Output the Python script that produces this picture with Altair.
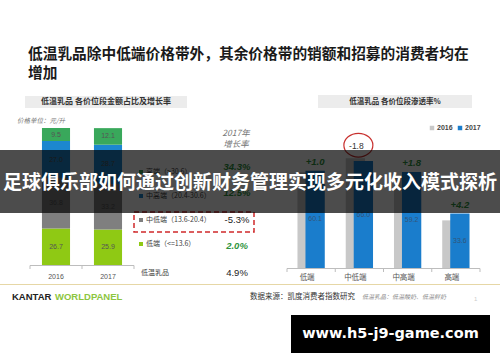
import altair as alt
import pandas as pd

# ---------------- data ----------------
title_lines = ["低温乳品除中低端价格带外，其余价格带的销额和招募的消费者均在", "增加"]
banner_text = "足球俱乐部如何通过创新财务管理实现多元化收入模式探析"
watermark = "www.h5-j9-game.com"

left_title = "低温乳品  各价位段金额占比及增长率"
unit_note = "价格单位：元/升"
years = ["2016", "2017"]
segments = ["低端", "中低端", "中高端", "高端"]          # bottom -> top
share_2016 = [26.7, 36.8, 27.0, 9.5]
share_2017 = [25.9, 33.2, 28.7, 12.1]
seg_colors = ["#8fc914", "#7f7f7f", "#1c87cf", "#39a85b"]
seg_legend = ["低端（<=13.6）", "中低端（13.6-20.4）", "中高端（20.4-30.6）", "高端（>30.6）"]
seg_growth = ["2.0%", "-5.3%", "12.5%", "34.3%"]
growth_head = ["2017年", "增长率"]
total_name = "低温乳品"
total_growth = "4.9%"

right_title = "低温乳品  各价位段渗透率%"
pen_cats = ["低端", "中低端", "中高端", "高端"]
pen_2016 = [59.1, 67.8, 57.4, 29.4]
pen_2017 = [60.1, 66.0, 59.2, 33.6]
pen_change = ["+1.0", "-1.8", "+1.8", "+4.2"]
pen_colors = ["#c8c8c8", "#1a7dcc"]

source_text = "数据来源：凯度消费者指数研究"
source_note = "低温乳品：低温酸奶、低温鲜奶"
brand = ["KANTAR", "WORLDPANEL"]

CJK = "Noto Sans CJK SC"
LAT = "Liberation Sans"
GREEN = "#2f9440"

# ---------------- tables ----------------
rows = []
for yr, shares in zip(years, [share_2016, share_2017]):
    lo = 0.0
    for i, (s, v) in enumerate(zip(segments, shares)):
        rows.append(dict(year=yr, seg=s, ord=i, lo=lo, hi=lo + v, mid=lo + v / 2, label=f"{v:.1f}"))
        lo += v
left_df = pd.DataFrame(rows)

leg_df = pd.DataFrame(dict(seg=segments, label=seg_legend, growth=seg_growth))
leg_df["neg"] = leg_df.growth.str.startswith("-")

pen_df = pd.DataFrame(dict(cat=pen_cats, v16=pen_2016, v17=pen_2017, change=pen_change))
pen_df["top"] = pen_df[["v16", "v17"]].max(axis=1)
pen_df["half"] = pen_df.v17 / 2
pen_df["lab"] = pen_df.v17.map(lambda v: f"{v:.1f}")
pen_df["neg"] = pen_df.change.str.startswith("-")

one = pd.DataFrame({"k": [0]})

# ---------------- scales ----------------
XL = alt.Scale(domain=years, range=[30, 134], paddingInner=0.46, paddingOuter=0.23)
XLt = alt.Scale(domain=years, range=[30, 134], paddingInner=0, paddingOuter=0)
YL = alt.Scale(domain=[0, 100], range=[265, 128])
SEGC = alt.Scale(domain=segments, range=seg_colors)
YLEG = alt.Scale(type="point", domain=segments[::-1], range=[172, 244], padding=0)
YGRO = alt.Scale(type="point", domain=segments[::-1], range=[167, 246], padding=0)

XG = alt.Scale(domain=pen_cats, range=[283, 476], paddingInner=0.6, paddingOuter=0.3)
XB = alt.Scale(domain=pen_cats, range=[291, 484], paddingInner=0.6, paddingOuter=0.3)
XC = alt.Scale(domain=pen_cats, range=[287, 480], paddingInner=0, paddingOuter=0)
YR = alt.Scale(domain=[0, 100], range=[268, 106])
XLEGR = alt.Scale(type="point", domain=years, range=[432, 460], padding=0)


def vtext(text, x, y, size, color="#333", weight="normal", style="normal", align="left", font=CJK):
    return alt.Chart(one).mark_text(
        text=text, fontSize=size, color=color, fontWeight=weight, fontStyle=style,
        align=align, baseline="middle", font=font
    ).encode(x=alt.value(x), y=alt.value(y))


def vrect(x, x2, y, y2, **kw):
    return alt.Chart(one).mark_rect(**kw).encode(
        x=alt.value(x), x2=alt.value(x2), y=alt.value(y), y2=alt.value(y2))


layers = []

# title
layers.append(vtext(title_lines[0], 28, 55, 14.7, "#1a1a1a", "bold"))
layers.append(vtext(title_lines[1], 28, 74, 14.7, "#1a1a1a", "bold"))

# ---------------- left panel ----------------
layers.append(vrect(25, 187, 96, 108, color="#ececec"))
layers.append(vtext(left_title, 106, 102, 8, "#333", "bold", align="center"))
layers.append(vtext(unit_note, 17, 121, 6.5, "#777", style="italic"))

layers.append(alt.Chart(left_df).mark_bar().encode(
    x=alt.X("year:N", scale=XL, axis=None),
    y=alt.Y("lo:Q", scale=YL, axis=None),
    y2="hi:Q",
    color=alt.Color("seg:N", scale=SEGC, legend=None),
))
layers.append(alt.Chart(left_df).mark_text(fontSize=7, color="#555", font=LAT, baseline="middle").encode(
    x=alt.X("year:N", scale=XL, axis=None),
    y=alt.Y("mid:Q", scale=YL, axis=None),
    text="label:N",
))
# left axis
layers.append(alt.Chart(one).mark_rule(color="#bdbdbd").encode(
    x=alt.value(30), x2=alt.value(134), y=alt.value(265.5)))
layers.append(alt.Chart(pd.DataFrame({"year": years})).mark_rule(color="#bdbdbd").encode(
    x=alt.X("year:N", scale=XLt, axis=None, bandPosition=0), y=alt.value(265.5), y2=alt.value(269)))
layers.append(alt.Chart(one).mark_rule(color="#bdbdbd").encode(
    x=alt.value(134), y=alt.value(265.5), y2=alt.value(269)))
layers.append(alt.Chart(pd.DataFrame({"year": years})).mark_text(
    fontSize=7, color="#555", font=LAT, baseline="middle").encode(
    x=alt.X("year:N", scale=XL, axis=None), y=alt.value(277), text="year:N"))

# growth header
layers.append(vtext(growth_head[0], 236, 133, 8.5, "#777", style="italic", align="center"))
layers.append(vtext(growth_head[1], 236, 144, 8.5, "#777", style="italic", align="center"))

# legend rows
layers.append(alt.Chart(leg_df).mark_square(size=16, opacity=1).encode(
    x=alt.value(141),
    y=alt.Y("seg:N", scale=YLEG, axis=None),
    color=alt.Color("seg:N", scale=SEGC, legend=None),
))
layers.append(alt.Chart(leg_df).mark_text(fontSize=7, color="#444", font=CJK, align="left", baseline="middle").encode(
    x=alt.value(146), y=alt.Y("seg:N", scale=YLEG, axis=None), text="label:N"))
layers.append(alt.Chart(leg_df[~leg_df.neg]).mark_text(
    fontSize=9.5, color=GREEN, font=LAT, fontWeight="bold", fontStyle="italic", align="center", baseline="middle").encode(
    x=alt.value(237), y=alt.Y("seg:N", scale=YGRO, axis=None), text="growth:N"))
layers.append(alt.Chart(leg_df[leg_df.neg]).mark_text(
    fontSize=9.5, color="#222", font=LAT, align="center", baseline="middle").encode(
    x=alt.value(237), y=alt.Y("seg:N", scale=YGRO, axis=None), text="growth:N"))
layers.append(vrect(134, 254, 212, 232, fillOpacity=0, stroke="#d0282a", strokeWidth=1.5, strokeDash=[5, 3]))
layers.append(vtext(total_name, 141, 273, 7, "#444"))
layers.append(vtext(total_growth, 237, 273, 9.5, "#222", align="center", font=LAT))

# ---------------- right panel ----------------
layers.append(vrect(318, 472, 95, 108, color="#ececec"))
layers.append(vtext(right_title, 395, 102, 7.5, "#333", "bold", align="center"))

leg_r = pd.DataFrame({"year": years, "c": pen_colors})
layers.append(alt.Chart(leg_r).mark_square(size=20, opacity=1).encode(
    x=alt.X("year:N", scale=XLEGR, axis=None), y=alt.value(128),
    color=alt.Color("c:N", scale=None)))
layers.append(alt.Chart(leg_r).mark_text(fontSize=7, color="#444", fontWeight="bold", font=LAT,
                                         align="left", baseline="middle", dx=5).encode(
    x=alt.X("year:N", scale=XLEGR, axis=None), y=alt.value(128), text="year:N"))

layers.append(alt.Chart(pen_df).mark_bar(color=pen_colors[0]).encode(
    x=alt.X("cat:N", scale=XG, axis=None), y=alt.Y("v16:Q", scale=YR, axis=None)))
layers.append(alt.Chart(pen_df).mark_bar(color=pen_colors[1]).encode(
    x=alt.X("cat:N", scale=XB, axis=None), y=alt.Y("v17:Q", scale=YR, axis=None)))
layers.append(alt.Chart(pen_df).mark_text(fontSize=7, color="#33557a", font=LAT, baseline="middle").encode(
    x=alt.X("cat:N", scale=XB, axis=None), y=alt.Y("half:Q", scale=YR, axis=None), text="lab:N"))
layers.append(alt.Chart(pen_df[~pen_df.neg]).mark_text(
    fontSize=9.5, color=GREEN, font=LAT, fontWeight="bold", fontStyle="italic", baseline="middle", dy=-9).encode(
    x=alt.X("cat:N", scale=XB, axis=None), y=alt.Y("top:Q", scale=YR, axis=None), text="change:N"))
layers.append(alt.Chart(pen_df[pen_df.neg]).mark_text(
    fontSize=8.5, color="#333", font=LAT, baseline="middle", dy=-12, dx=-3).encode(
    x=alt.X("cat:N", scale=XC, axis=None), y=alt.Y("top:Q", scale=YR, axis=None), text="change:N"))
ellipse = "M -1 0 A 1 0.82 0 1 1 1 0 A 1 0.82 0 1 1 -1 0 Z"
layers.append(alt.Chart(pen_df[pen_df.neg]).mark_point(
    shape=ellipse, size=840, filled=False, color="#c8302e", strokeWidth=1.2, opacity=1,
    xOffset=-1, yOffset=-13).encode(
    x=alt.X("cat:N", scale=XC, axis=None), y=alt.Y("top:Q", scale=YR, axis=None)))

# right axis
layers.append(alt.Chart(one).mark_rule(color="#bdbdbd").encode(
    x=alt.value(287), x2=alt.value(480), y=alt.value(268.5)))
layers.append(alt.Chart(pen_df).mark_rule(color="#bdbdbd").encode(
    x=alt.X("cat:N", scale=XC, axis=None, bandPosition=0), y=alt.value(268.5), y2=alt.value(272)))
layers.append(alt.Chart(one).mark_rule(color="#bdbdbd").encode(
    x=alt.value(480), y=alt.value(268.5), y2=alt.value(272)))
layers.append(alt.Chart(pen_df).mark_text(fontSize=7.5, color="#555", font=CJK, baseline="middle").encode(
    x=alt.X("cat:N", scale=XG, axis=None), y=alt.value(278), text="cat:N"))

# ---------------- footer ----------------
layers.append(alt.Chart(one).mark_rule(color="#e6d7a6", strokeWidth=1).encode(
    x=alt.value(0), x2=alt.value(500), y=alt.value(284.5)))
layers.append(vtext(brand[0], 12, 297, 9.5, "#222", "bold", font=LAT))
layers.append(vtext(brand[1], 55, 297, 9.5, "#8dc63f", "bold", font=LAT))
layers.append(vtext(source_text, 250, 297, 7.5, "#333"))
layers.append(vtext(source_note, 362, 297, 6, "#888", style="italic"))
layers.append(vtext("1", 474, 299, 6, "#cccccc", font=LAT))

# ---------------- overlay banner & watermark ----------------
layers.append(vrect(0, 500, 150, 213, color="#000000", opacity=0.7))
layers.append(vtext(banner_text, 250, 183, 19, "#ffffff", "bold", align="center"))
layers.append(vrect(291, 490, 315, 353, color="#000000", opacity=1))
layers.append(vtext(watermark, 390.5, 334, 14.5, "#ffffff", "bold", align="center", font="DejaVu Sans"))

chart = alt.layer(*layers).properties(
    width=500, height=362, padding=0, background="white",
    autosize=alt.AutoSizeParams(type="none"),
).resolve_scale(x="independent", y="independent", color="independent").configure_view(stroke=None)

chart.save("out.html", embed_options={"renderer": "svg", "actions": False})
